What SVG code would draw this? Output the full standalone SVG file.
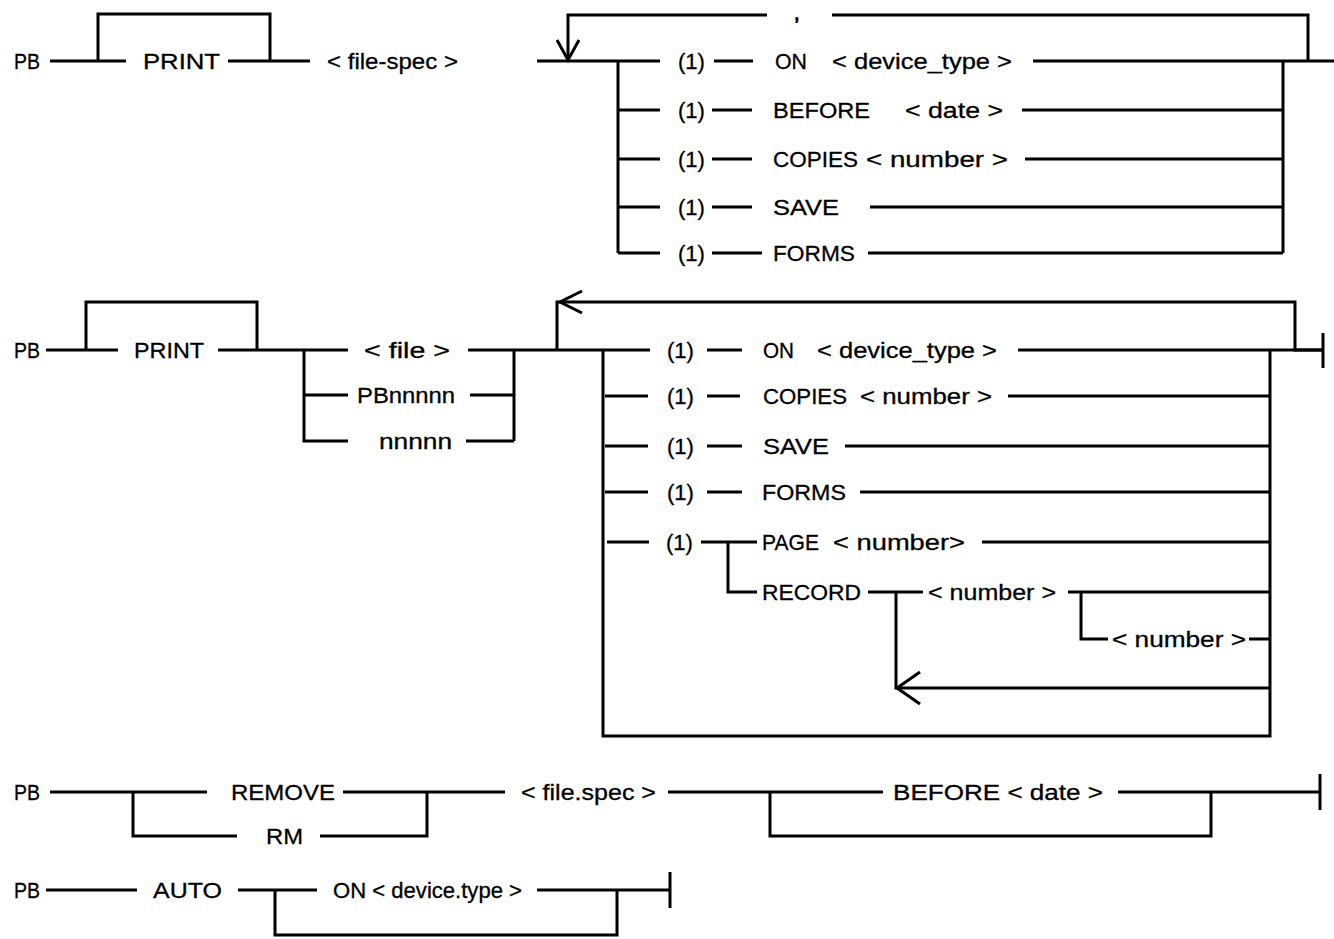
<svg xmlns="http://www.w3.org/2000/svg" width="1334" height="939" viewBox="0 0 1334 939">
<style>
.ln{stroke:#000;stroke-width:3;fill:none;stroke-linejoin:miter;stroke-linecap:butt}
.t{font-family:"Liberation Sans",Arial,Helvetica,sans-serif;font-size:22px;fill:#000;stroke:#000;stroke-width:0.3}
</style>
<rect width="1334" height="939" fill="#fff"/>
<g id="connectors" class="ln">
  <!-- Diagram 1 -->
  <path d="M50,61 H126"/>
  <path d="M98,61 V14 H270 V61"/>
  <path d="M228,61 H310"/>
  <path d="M537,61 H660"/>
  <path d="M1308,61 V15 H832"/>
  <path d="M767,15 H568 V59"/>
  <polyline points="557,40 568,60 579,40"/>
  <path d="M618,61 V253"/>
  <path d="M618,110 H660 M618,159 H660 M618,207 H660 M618,253 H660"/>
  <path d="M714,61 H753 M712,110 H752 M712,159 H752 M712,207 H752 M712,253 H762"/>
  <path d="M1033,61 H1334"/>
  <path d="M1022,110 H1283 M1025,159 H1283 M870,207 H1283 M868,253 H1283"/>
  <path d="M1283,61 V253"/>
  <!-- Diagram 2 -->
  <path d="M46,350 H118"/>
  <path d="M86,350 V302 H257 V350"/>
  <path d="M218,350 H348"/>
  <path d="M304,350 V441 H348 M304,395 H348"/>
  <path d="M468,350 H650"/>
  <path d="M470,395 H514 M466,441 H514 M514,350 V441"/>
  <path d="M557,350 V302 H1295 V350 H1322"/>
  <polyline points="582,291 560,302 582,313"/>
  <path d="M1323,333 V368"/>
  <path d="M603,350 V736 H1270 V350"/>
  <path d="M707,350 H742 M605,396 H648 M707,396 H740 M605,446 H648 M707,446 H742 M605,492 H648 M707,492 H742"/>
  <path d="M1018,350 H1322"/>
  <path d="M1008,396 H1270 M845,446 H1270 M860,492 H1270"/>
  <path d="M607,542 H649 M701,542 H757 M728,542 V592 H757"/>
  <path d="M982,542 H1270"/>
  <path d="M868,592 H923 M896,592 V688 H1270"/>
  <polyline points="920,672 897,688 920,704"/>
  <path d="M1068,592 H1270 M1081,592 V639 H1108 M1249,639 H1270"/>
  <!-- Diagram 3 -->
  <path d="M50,792 H207 M133,792 V836 H237"/>
  <path d="M343,792 H505 M427,792 V836 H320"/>
  <path d="M668,792 H883 M770,792 V836 H1211 V792"/>
  <path d="M1118,792 H1319 M1320,774 V810"/>
  <!-- Diagram 4 -->
  <path d="M46,890 H137"/>
  <path d="M238,890 H317 M275,890 V935 H617 V890"/>
  <path d="M537,890 H670 M670,872 V908"/>
</g>
<g class="t">
  <!-- Diagram 1 -->
  <g id="d1-pb"><text x="14" y="69" textLength="26" lengthAdjust="spacingAndGlyphs">PB</text></g>
  <g id="d1-print"><text x="143" y="69" textLength="77" lengthAdjust="spacingAndGlyphs">PRINT</text></g>
  <g id="d1-filespec"><text x="327" y="69" textLength="131" lengthAdjust="spacingAndGlyphs">&lt; file-spec &gt;</text></g>
  <g id="d1-comma"><text x="794" y="20" style="font-size:20px;stroke-width:0.9">,</text></g>
  <g id="d1-r1"><text x="678" y="69">(1)</text><text x="775" y="69" textLength="32" lengthAdjust="spacingAndGlyphs">ON</text><text x="832" y="69" textLength="180" lengthAdjust="spacingAndGlyphs">&lt; device_type &gt;</text></g>
  <g id="d1-r2"><text x="678" y="118">(1)</text><text x="773" y="118" textLength="97" lengthAdjust="spacingAndGlyphs">BEFORE</text><text x="905" y="118" textLength="98" lengthAdjust="spacingAndGlyphs">&lt; date &gt;</text></g>
  <g id="d1-r3"><text x="678" y="167">(1)</text><text x="773" y="167" textLength="85" lengthAdjust="spacingAndGlyphs">COPIES</text><text x="866" y="167" textLength="142" lengthAdjust="spacingAndGlyphs">&lt; number &gt;</text></g>
  <g id="d1-r4"><text x="678" y="215">(1)</text><text x="773" y="215" textLength="66" lengthAdjust="spacingAndGlyphs">SAVE</text></g>
  <g id="d1-r5"><text x="678" y="261">(1)</text><text x="773" y="261" textLength="82" lengthAdjust="spacingAndGlyphs">FORMS</text></g>
  <!-- Diagram 2 -->
  <g id="d2-pb"><text x="14" y="358" textLength="26" lengthAdjust="spacingAndGlyphs">PB</text></g>
  <g id="d2-print"><text x="134" y="358" textLength="70" lengthAdjust="spacingAndGlyphs">PRINT</text></g>
  <g id="d2-file"><text x="364" y="358" textLength="86" lengthAdjust="spacingAndGlyphs">&lt; file &gt;</text></g>
  <g id="d2-pbn"><text x="357" y="403" textLength="98" lengthAdjust="spacingAndGlyphs">PBnnnnn</text></g>
  <g id="d2-n"><text x="379" y="449" textLength="73" lengthAdjust="spacingAndGlyphs">nnnnn</text></g>
  <g id="d2-r1"><text x="667" y="358">(1)</text><text x="763" y="358" textLength="31" lengthAdjust="spacingAndGlyphs">ON</text><text x="817" y="358" textLength="180" lengthAdjust="spacingAndGlyphs">&lt; device_type &gt;</text></g>
  <g id="d2-r2"><text x="667" y="404">(1)</text><text x="763" y="404" textLength="84" lengthAdjust="spacingAndGlyphs">COPIES</text><text x="860" y="404" textLength="132" lengthAdjust="spacingAndGlyphs">&lt; number &gt;</text></g>
  <g id="d2-r3"><text x="667" y="454">(1)</text><text x="763" y="454" textLength="66" lengthAdjust="spacingAndGlyphs">SAVE</text></g>
  <g id="d2-r4"><text x="667" y="500">(1)</text><text x="762" y="500" textLength="84" lengthAdjust="spacingAndGlyphs">FORMS</text></g>
  <g id="d2-r5"><text x="666" y="550">(1)</text><text x="762" y="550" textLength="57" lengthAdjust="spacingAndGlyphs">PAGE</text><text x="833" y="550" textLength="132" lengthAdjust="spacingAndGlyphs">&lt; number&gt;</text></g>
  <g id="d2-record"><text x="762" y="600" textLength="99" lengthAdjust="spacingAndGlyphs">RECORD</text><text x="928" y="600" textLength="128" lengthAdjust="spacingAndGlyphs">&lt; number &gt;</text></g>
  <g id="d2-num2"><text x="1112" y="647" textLength="134" lengthAdjust="spacingAndGlyphs">&lt; number &gt;</text></g>
  <!-- Diagram 3 -->
  <g id="d3-pb"><text x="14" y="800" textLength="26" lengthAdjust="spacingAndGlyphs">PB</text></g>
  <g id="d3-remove"><text x="231" y="800" textLength="104" lengthAdjust="spacingAndGlyphs">REMOVE</text></g>
  <g id="d3-rm"><text x="266" y="844" textLength="37" lengthAdjust="spacingAndGlyphs">RM</text></g>
  <g id="d3-filespec"><text x="521" y="800" textLength="135" lengthAdjust="spacingAndGlyphs">&lt; file.spec &gt;</text></g>
  <g id="d3-before"><text x="893" y="800" textLength="210" lengthAdjust="spacingAndGlyphs">BEFORE &lt; date &gt;</text></g>
  <!-- Diagram 4 -->
  <g id="d4-pb"><text x="14" y="898" textLength="26" lengthAdjust="spacingAndGlyphs">PB</text></g>
  <g id="d4-auto"><text x="153" y="898" textLength="69" lengthAdjust="spacingAndGlyphs">AUTO</text></g>
  <g id="d4-on"><text x="333" y="898" textLength="189" lengthAdjust="spacingAndGlyphs">ON &lt; device.type &gt;</text></g>
</g>
</svg>
